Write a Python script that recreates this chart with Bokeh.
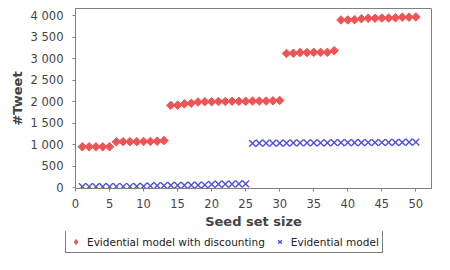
from bokeh.plotting import figure
from bokeh.layouts import column
from bokeh.models import Range1d, FixedTicker, CustomJSTickFormatter, Legend, LegendItem
from bokeh.embed import file_html
from bokeh.resources import INLINE
import math

seed_size = list(range(1, 51))
discounting = [950, 950, 950, 950, 950,
               1065, 1070, 1070, 1070, 1075, 1075, 1080, 1095,
               1915, 1920, 1950, 1965, 1995, 2000, 2000, 2005, 2005, 2010, 2010, 2010,
               2015, 2015, 2015, 2020, 2030,
               3125, 3130, 3145, 3145, 3150, 3150, 3150, 3190,
               3905, 3905, 3910, 3935, 3945, 3945, 3950, 3950, 3955, 3970, 3970, 3975]
evidential = [20, 20, 20, 20, 20, 25, 25, 25, 30, 30,
              40, 45, 45, 50, 50, 50, 55, 55, 60,
              75, 80, 80, 80, 85, 85,
              1030, 1035, 1035, 1035, 1035, 1035, 1040, 1040, 1040, 1040, 1040, 1040,
              1045, 1045, 1045, 1045, 1045, 1050, 1050, 1050, 1055, 1055, 1055, 1060, 1060]
x_ticks = list(range(0, 51, 5))
y_ticks = list(range(0, 4001, 500))
series_names = ["Evidential model with discounting", "Evidential model"]

RED = "#ef5454"
BLUE = "#5050dc"
GRAY = "#808080"
TXT = "#444444"

red_style = dict(marker="square", size=6, angle=math.pi / 4, fill_color=RED, line_color=RED)
blue_style = dict(marker="x", size=9.5, line_color=BLUE, line_width=1.4)

p = figure(width=434, height=231, output_backend="svg", toolbar_location=None,
           x_range=Range1d(0, 52.3), y_range=Range1d(-22, 4172),
           min_border_left=75, min_border_right=3, min_border_top=8, min_border_bottom=10)
p.frame_align = False
p.xgrid.visible = False
p.ygrid.visible = False
p.outline_line_color = GRAY
p.outline_line_width = 1

p.scatter(seed_size, discounting, **red_style)
p.scatter(seed_size, evidential, **blue_style)

fmt = CustomJSTickFormatter(code="return tick.toFixed(0).replace(/\\B(?=(\\d{3})+(?!\\d))/g, ' ');")
for ax, ticks in ((p.xaxis[0], x_ticks), (p.yaxis[0], y_ticks)):
    ax.ticker = FixedTicker(ticks=ticks)
    ax.formatter = fmt
    ax.minor_tick_line_color = None
    ax.major_tick_in = 0
    ax.major_tick_out = 3
    ax.major_tick_line_color = GRAY
    ax.axis_line_color = GRAY
    ax.major_label_text_font = "DejaVu Sans"
    ax.major_label_text_font_size = "11.5px"
    ax.major_label_text_color = TXT
    ax.axis_label_text_font = "DejaVu Sans"
    ax.axis_label_text_font_style = "bold"
    ax.axis_label_text_font_size = "13px"
    ax.axis_label_text_color = TXT

p.xaxis.axis_label = "Seed set size"
p.yaxis.axis_label = "#Tweet"
p.xaxis.major_label_standoff = 7
p.yaxis.major_label_standoff = 9
p.xaxis.axis_label_standoff = 3
p.yaxis.axis_label_standoff = 3

# legend strip (dummy renderers hold one point each, outside the strip's range)
lg = figure(width=434, height=23, output_backend="svg", toolbar_location=None,
            x_range=Range1d(0, 1), y_range=Range1d(0, 1),
            min_border_left=0, min_border_right=0, min_border_top=0, min_border_bottom=0)
lg.frame_align = False
lg.axis.visible = False
lg.xgrid.visible = False
lg.ygrid.visible = False
lg.outline_line_color = None
lr1 = lg.scatter(seed_size[-1:], discounting[-1:], marker="diamond", size=8,
                 fill_color=RED, line_color=RED)
lr2 = lg.scatter(seed_size[-1:], evidential[-1:], **blue_style)
legend = Legend(items=[LegendItem(label=series_names[0], renderers=[lr1]),
                       LegendItem(label=series_names[1], renderers=[lr2])],
                location=(65, 1), orientation="horizontal",
                border_line_color="black", border_line_width=1,
                background_fill_color="white", background_fill_alpha=1,
                padding=3, spacing=8, margin=0,
                glyph_width=13, glyph_height=15, label_height=14, label_standoff=5,
                label_text_font="DejaVu Sans", label_text_font_size="10.5px",
                label_text_color="#222222")
lg.add_layout(legend, "center")

layout = column(p, lg, spacing=0)
open("out.html", "w").write(file_html(layout, INLINE))
